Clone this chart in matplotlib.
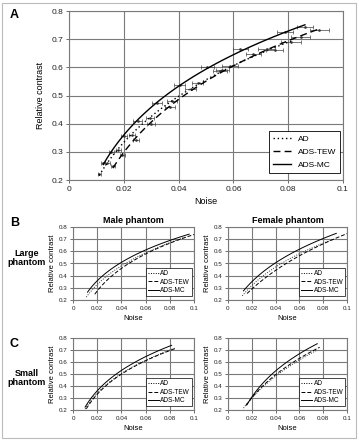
import numpy as np
import matplotlib
matplotlib.use("Agg")
import matplotlib.pyplot as plt
from matplotlib.patches import Rectangle
from matplotlib.lines import Line2D

plt.rcParams['font.family'] = ['Liberation Sans', 'DejaVu Sans']

# ---------------- Panel A data (points with horizontal error bars) ----------------
a_ad_x = [0.011, 0.014, 0.018, 0.023, 0.0295, 0.0375, 0.047, 0.056, 0.0673, 0.075, 0.081]
a_ad_y = [0.22, 0.26, 0.307, 0.36, 0.42, 0.482, 0.545, 0.59, 0.646, 0.662, 0.69]
a_ad_err = [0.0005, 0.0008, 0.001, 0.0012, 0.0015, 0.0018, 0.002, 0.0025, 0.0028, 0.003, 0.0035]

a_tew_x = [0.016, 0.0195, 0.0245, 0.030, 0.037, 0.0445, 0.0551, 0.0588, 0.0721, 0.0845, 0.0914]
a_tew_y = [0.25, 0.29, 0.342, 0.40, 0.46, 0.522, 0.588, 0.605, 0.664, 0.706, 0.733]
a_tew_err = [0.0008, 0.001, 0.0012, 0.0015, 0.0018, 0.002, 0.0025, 0.0028, 0.003, 0.0035, 0.0036]

a_mc_x = [0.0125, 0.0155, 0.020, 0.025, 0.032, 0.0405, 0.0505, 0.0625, 0.0788, 0.0861]
a_mc_y = [0.26, 0.30, 0.355, 0.41, 0.472, 0.537, 0.602, 0.664, 0.724, 0.744]
a_mc_err = [0.0008, 0.001, 0.0012, 0.0015, 0.0018, 0.002, 0.0025, 0.0028, 0.003, 0.0028]

# ---------------- Panel B/C data (curves) ----------------
ml_mc_x = [0.012, 0.02, 0.03, 0.04, 0.06, 0.08, 0.096]
ml_mc_y = [0.27, 0.347, 0.44, 0.514, 0.62, 0.69, 0.735]
ml_ad_x = [0.011, 0.02, 0.03, 0.04, 0.06, 0.08, 0.093]
ml_ad_y = [0.23, 0.314, 0.41, 0.486, 0.60, 0.67, 0.71]
ml_tew_x = [0.018, 0.02, 0.03, 0.04, 0.06, 0.08, 0.1]
ml_tew_y = [0.25, 0.275, 0.375, 0.453, 0.586, 0.675, 0.73]

fl_mc_x = [0.013, 0.02, 0.03, 0.04, 0.06, 0.08, 0.091]
fl_mc_y = [0.275, 0.347, 0.44, 0.51, 0.61, 0.70, 0.755]
fl_ad_x = [0.012, 0.02, 0.03, 0.04, 0.06, 0.08, 0.088]
fl_ad_y = [0.235, 0.314, 0.405, 0.475, 0.575, 0.665, 0.70]
fl_tew_x = [0.016, 0.02, 0.03, 0.04, 0.06, 0.08, 0.1]
fl_tew_y = [0.255, 0.286, 0.375, 0.445, 0.558, 0.665, 0.745]

ms_mc_x = [0.01, 0.02, 0.03, 0.04, 0.06, 0.0815]
ms_mc_y = [0.225, 0.356, 0.455, 0.536, 0.64, 0.74]
ms_ad_x = [0.01, 0.02, 0.03, 0.04, 0.06, 0.085]
ms_ad_y = [0.21, 0.335, 0.43, 0.51, 0.617, 0.715]
ms_tew_x = [0.011, 0.02, 0.03, 0.04, 0.06, 0.084]
ms_tew_y = [0.21, 0.33, 0.425, 0.50, 0.61, 0.71]

fs_mc_x = [0.016, 0.02, 0.03, 0.04, 0.06, 0.075]
fs_mc_y = [0.25, 0.30, 0.43, 0.53, 0.67, 0.75]
fs_ad_x = [0.013, 0.02, 0.03, 0.04, 0.06, 0.074]
fs_ad_y = [0.22, 0.29, 0.40, 0.485, 0.62, 0.69]
fs_tew_x = [0.015, 0.02, 0.03, 0.04, 0.06, 0.077]
fs_tew_y = [0.24, 0.295, 0.41, 0.494, 0.633, 0.72]

labels = ['AD', 'ADS-TEW', 'ADS-MC']
styles = [(0, (1, 2)), (0, (5, 3)), '-']
xticks = [0, 0.02, 0.04, 0.06, 0.08, 0.1]
xticklabels = ['0', '0.02', '0.04', '0.06', '0.08', '0.1']
yticks = [0.2, 0.3, 0.4, 0.5, 0.6, 0.7, 0.8]
yticklabels = ['0.2', '0.3', '0.4', '0.5', '0.6', '0.7', '0.8']

W, H = 359, 440
fig = plt.figure(figsize=(W / 100, H / 100), dpi=100)
fig.patch.set_facecolor('white')

def frac(l, r, t, b):
    return [l / W, 1 - b / H, (r - l) / W, (b - t) / H]

GRID = '#7a7a7a'

def style_axes(ax, fs):
    ax.set_xlim(0, 0.1)
    ax.set_ylim(0.2, 0.8)
    ax.set_xticks(xticks)
    ax.set_xticklabels(xticklabels)
    ax.set_yticks(yticks)
    ax.set_yticklabels(yticklabels)
    ax.grid(True, color=GRID, linewidth=0.8)
    ax.set_axisbelow(True)
    for s in ax.spines.values():
        s.set_color(GRID)
        s.set_linewidth(0.8)
    ax.tick_params(labelsize=fs, length=2, width=0.6, color='#555555', pad=2,
                   labelcolor='#222222')

def trend(ax, x, y, ls, lw, color='black'):
    x = np.asarray(x)
    c = np.polyfit(np.log(x), y, 2)
    xs = np.linspace(x.min(), x.max(), 100)
    ax.plot(xs, np.polyval(c, np.log(xs)), color=color, linestyle=ls, linewidth=lw)

# ---------------- Panel A ----------------
axA = fig.add_axes(frac(69, 343, 11, 180))
style_axes(axA, 6)
for x, y, e, ls in [(a_ad_x, a_ad_y, a_ad_err, styles[0]),
                    (a_tew_x, a_tew_y, a_tew_err, styles[1]),
                    (a_mc_x, a_mc_y, a_mc_err, styles[2])]:
    axA.errorbar(x, y, xerr=e, fmt='none', ecolor='#444444', elinewidth=0.5,
                 capsize=1.2, capthick=0.5)
    axA.plot(x, y, linestyle='none', marker='s', markersize=0.8, color='#333333')
    trend(axA, x, y, ls, 1.0)
handlesA = [Line2D([], [], color='black', linestyle=s, linewidth=1.0) for s in styles]
axA.legend(handlesA, labels, loc='lower right', bbox_to_anchor=(0.99, 0.04),
           fontsize=6, frameon=True, fancybox=False, edgecolor='black',
           framealpha=1, borderpad=0.5, handlelength=2.2, labelspacing=0.6,
           borderaxespad=0)
axA.get_legend().get_frame().set_linewidth(0.6)
axA.set_ylabel('Relative contrast', fontsize=6.5, labelpad=5)
axA.set_xlabel('Noise', fontsize=6.5, labelpad=3)

# ---------------- Panels B/C ----------------
small_panels = [
    (frac(73, 194, 227, 300), (ml_ad_x, ml_ad_y, ml_tew_x, ml_tew_y, ml_mc_x, ml_mc_y)),
    (frac(228, 347, 227, 300), (fl_ad_x, fl_ad_y, fl_tew_x, fl_tew_y, fl_mc_x, fl_mc_y)),
    (frac(73, 194, 338, 410), (ms_ad_x, ms_ad_y, ms_tew_x, ms_tew_y, ms_mc_x, ms_mc_y)),
    (frac(228, 347, 338, 410), (fs_ad_x, fs_ad_y, fs_tew_x, fs_tew_y, fs_mc_x, fs_mc_y)),
]
for rect, d in small_panels:
    ax = fig.add_axes(rect)
    style_axes(ax, 4.5)
    trend(ax, d[0], d[1], (0, (1, 1.5)), 0.7, color='#333333')
    trend(ax, d[2], d[3], (0, (4, 2)), 0.7)
    trend(ax, d[4], d[5], '-', 0.7)
    hs = [Line2D([], [], color='black', linestyle=s, linewidth=0.7)
          for s in [(0, (1, 1.5)), (0, (4, 2)), '-']]
    lg = ax.legend(hs, labels, loc='lower right', bbox_to_anchor=(0.985, 0.05),
                   fontsize=4.7, frameon=True, fancybox=False, edgecolor='black',
                   framealpha=1, borderpad=0.3, handlelength=1.6, labelspacing=0.25,
                   handletextpad=0.3, borderaxespad=0)
    lg.get_frame().set_linewidth(0.5)
    ax.set_ylabel('Relative contrast', fontsize=5.5, labelpad=2)
    ax.set_xlabel('Noise', fontsize=5.5, labelpad=3)

# ---------------- Text annotations ----------------
def ftext(px, py, s, **kw):
    fig.text(px / W, 1 - py / H, s, **kw)

ftext(10, 15, 'A', fontsize=9, fontweight='bold', va='center', ha='left')
ftext(10, 223, 'B', fontsize=9, fontweight='bold', va='center', ha='left')
ftext(10, 344, 'C', fontsize=9, fontweight='bold', va='center', ha='left')
ftext(133, 220, 'Male phantom', fontsize=6.5, fontweight='bold', ha='center', va='center')
ftext(288, 220, 'Female phantom', fontsize=6.5, fontweight='bold', ha='center', va='center')
ftext(27, 258, 'Large\nphantom', fontsize=6.5, fontweight='bold', ha='center', va='center',
      linespacing=1.1)
ftext(27, 378, 'Small\nphantom', fontsize=6.5, fontweight='bold', ha='center', va='center',
      linespacing=1.1)

fig.add_artist(Rectangle((2 / W, 2 / H), (W - 5) / W, (H - 5) / H,
                         transform=fig.transFigure, fill=False,
                         edgecolor='#bbbbbb', linewidth=0.8))

fig.savefig('out.png', dpi=100)
